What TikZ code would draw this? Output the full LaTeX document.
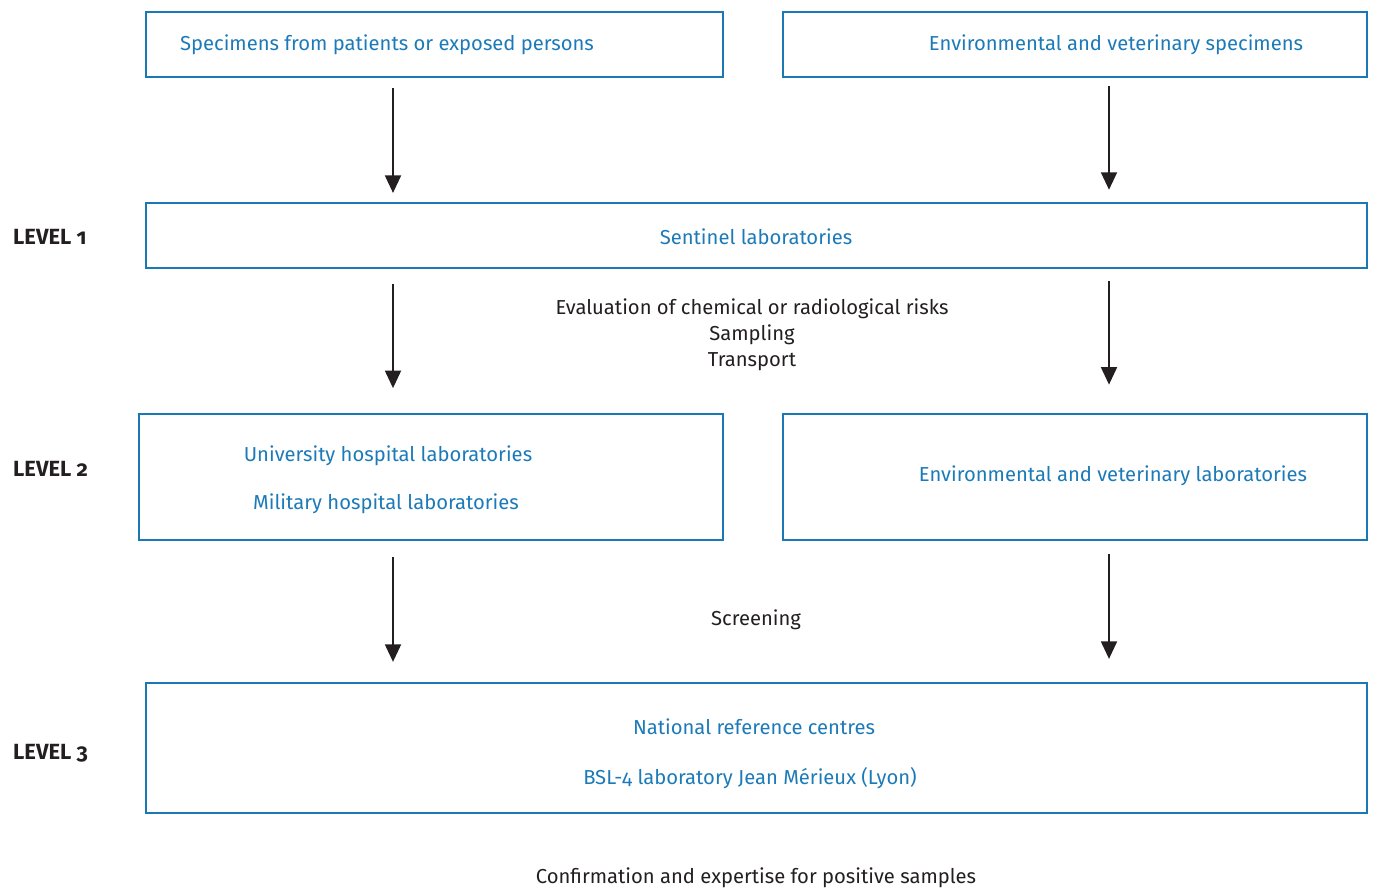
\documentclass[tikz,border=0pt]{standalone}
\usepackage{fontspec}
\setmainfont[Numbers=OldStyle]{Fira Sans}
\usetikzlibrary{arrows.meta,positioning}
\definecolor{boxblue}{HTML}{1A78B4}
\definecolor{txtblue}{HTML}{1C7AB8}
\definecolor{darktxt}{HTML}{231F20}

\begin{document}
\begin{tikzpicture}[x=0.02cm,y=-0.02cm,every node/.style={font=\fontsize{11.5}{13}\selectfont,text=darktxt},
  box/.style={rectangle,draw=boxblue,line width=1.4pt,inner sep=0pt},
  lab/.style={text=txtblue},
  lvl/.style={font=\fontsize{12.5}{14}\selectfont\bfseries,anchor=west},
  arr/.style={-{Triangle[width=9pt,length=10pt]},line width=1.4pt,darktxt}]
\useasboundingbox (0,0) rectangle (1375,888);
% boxes
\node[box,minimum width=11.54cm,minimum height=1.3cm] (spec) at (434.5,44.5) {};
\node[box,minimum width=11.68cm,minimum height=1.3cm] (env) at (1075,44.5) {};
\node[box,minimum width=24.42cm,minimum height=1.3cm] (sent) at (756.5,235.5) {};
\node[box,minimum width=11.68cm,minimum height=2.52cm] (hosp) at (431,477) {};
\node[box,minimum width=11.68cm,minimum height=2.52cm] (envlab) at (1075,477) {};
\node[box,minimum width=24.42cm,minimum height=2.6cm] (nrc) at (756.5,748) {};
% box texts
\node[lab] (spectxt) at (387,45) {Specimens from patients or exposed persons};
\node[lab] (envtxt) at (1116,45) {Environmental and veterinary specimens};
\node[lab] (senttxt) at (756,237) {Sentinel laboratories};
\node[lab] (univ) at (388,456) {University hospital laboratories};
\node[lab] (mil) at (386,504) {Military hospital laboratories};
\node[lab] (envlabtxt) at (1113,476) {Environmental and veterinary laboratories};
\node[lab] (nrctxt) at (754,727) {National reference centres};
\node[lab] (bsl) at (750,778) {BSL-4 laboratory Jean Mérieux (Lyon)};
% levels
\node[lvl] (l1) at (7,237) {LEVEL 1};
\node[lvl] (l2) at (7,469) {LEVEL 2};
\node[lvl] (l3) at (7,753) {LEVEL 3};
% step texts
\node[align=center,font=\fontsize{11.5}{14.7}\selectfont] (eval) at (752,335) {Evaluation of chemical or radiological risks\\Sampling\\Transport};
\node (scr) at (756,620) {Screening};
\node (conf) at (756,878) {Confirmation and expertise for positive samples};
% arrows
\coordinate (lx) at (393,0);
\coordinate (rx) at (1109,0);
\draw[arr,shorten <=5.7pt,shorten >=5pt] (spec.south -| lx) -- (sent.north -| lx);
\draw[arr,shorten <=4.5pt,shorten >=6.8pt] (env.south -| rx) -- (sent.north -| rx);
\draw[arr,shorten <=8.5pt,shorten >=14pt] (sent.south -| lx) -- (hosp.north -| lx);
\draw[arr,shorten <=6.8pt,shorten >=16pt] (sent.south -| rx) -- (envlab.north -| rx);
\draw[arr,shorten <=9pt,shorten >=11.3pt] (hosp.south -| lx) -- (nrc.north -| lx);
\draw[arr,shorten <=7.4pt,shorten >=13pt] (envlab.south -| rx) -- (nrc.north -| rx);
\end{tikzpicture}
\end{document}
